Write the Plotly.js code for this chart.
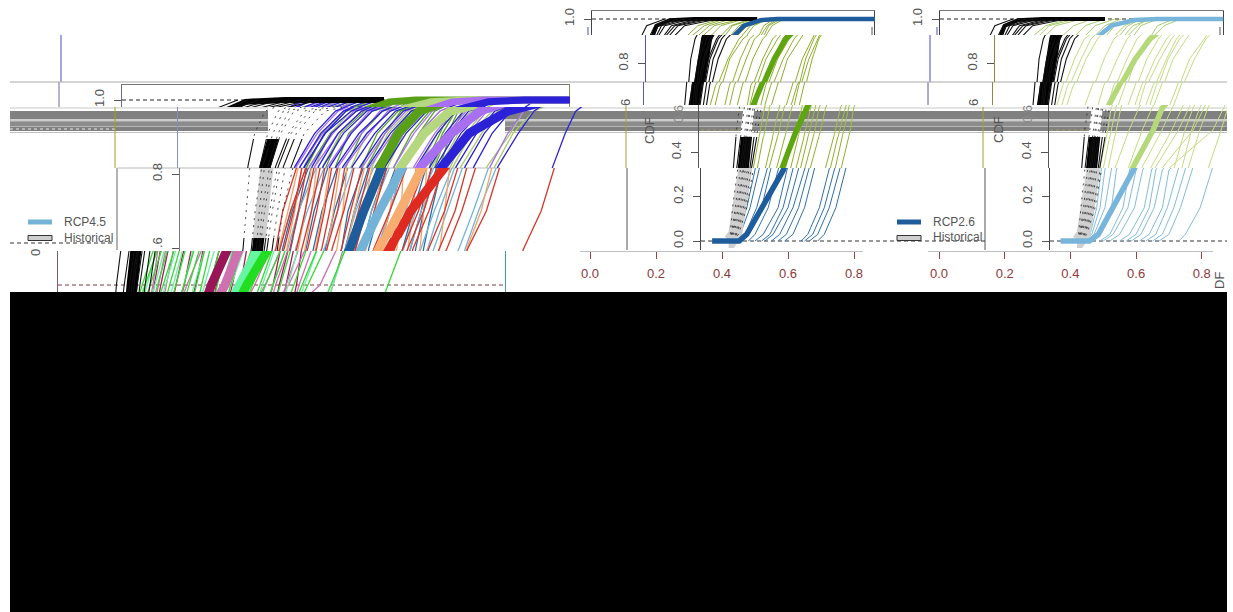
<!DOCTYPE html>
<html><head><meta charset="utf-8">
<script src="https://cdn.plot.ly/plotly-3.0.1.min.js"></script>
<style>html,body{margin:0;padding:0;background:#fff;overflow:hidden}#c{width:1233px;height:612px}</style>
</head><body><div id="c"></div>
<script>
// CDF levels at which the quantiles were read
const levels = [0,.03,.15,.32,.5,.6,.7,.82,.91,.97,1];
const levelsUpper = [.48,.6,.7,.82,.91,.97,1];
const levelsMean = [0,0,.03,.15,.32,.5,.6,.7,.82,.91,.97,.995,1,1];

const meanHist = [.42,.425,.44,.455,.47,.48,.487,.497,.505,.52,.535,.575,.65,.84];
const mean26 = [.37,.452,.475,.52,.586,.632,.664,.69,.725,.76,.80,.85,.90,1.2];
const mean45 = [.37,.458,.485,.53,.59,.658,.686,.72,.765,.81,.86,.93,1.0,1.2];
const mean60 = [.37,.47,.50,.55,.62,.685,.72,.755,.803,.862,.917,.97,1.03,1.2];
const mean85 = [.37,.475,.51,.565,.635,.70,.742,.78,.844,.896,.97,1.04,1.11,1.2];

const thinHist = [
[.42,.425,.432,.44,.45,.459,.465,.472,.485,.505,.56],
[.42,.428,.44,.45,.465,.475,.482,.495,.51,.53,.58],
[.42,.43,.445,.46,.475,.485,.49,.50,.52,.54,.60],
[.425,.432,.45,.465,.48,.49,.495,.51,.53,.55,.62],
[.425,.435,.455,.47,.485,.492,.50,.515,.535,.56,.64],
[.428,.44,.46,.475,.49,.50,.51,.525,.55,.58,.66],
[.43,.443,.465,.48,.495,.505,.515,.53,.555,.59,.68],
[.43,.445,.47,.49,.505,.515,.525,.54,.565,.60,.70],
[.432,.45,.475,.495,.515,.525,.535,.555,.58,.62,.72]];
const thin26 = [
[.425,.445,.475,.50,.522,.535,.553,.585,.618,.66,.73],
[.435,.455,.485,.512,.535,.55,.566,.59,.63,.68,.74],
[.45,.47,.505,.536,.565,.58,.595,.622,.65,.695,.76],
[.46,.482,.52,.547,.58,.594,.61,.64,.665,.71,.79],
[.48,.50,.54,.57,.602,.617,.634,.66,.69,.73,.80],
[.50,.525,.57,.597,.63,.648,.66,.69,.72,.76,.82],
[.52,.545,.585,.612,.642,.655,.672,.70,.735,.765,.83],
[.53,.555,.6,.63,.66,.675,.69,.722,.75,.785,.84],
[.55,.575,.615,.642,.672,.688,.705,.735,.77,.81,.86],
[.57,.595,.632,.656,.688,.70,.72,.752,.785,.82,.87],
[.59,.615,.65,.672,.705,.72,.74,.765,.80,.83,.875],
[.64,.66,.695,.718,.75,.765,.785,.81,.84,.86,.89],
[.65,.675,.71,.733,.762,.78,.80,.82,.845,.87,.90],
[.665,.69,.725,.748,.775,.79,.805,.83,.855,.875,.91],
[.69,.71,.745,.766,.795,.805,.82,.84,.86,.885,.92]];
const thin45 = [
[.44,.46,.48,.494,.52,.53,.55,.58,.61,.66,.73],
[.445,.465,.49,.505,.53,.545,.565,.60,.63,.67,.75],
[.45,.472,.505,.52,.545,.56,.582,.615,.65,.69,.77],
[.465,.49,.525,.54,.585,.615,.64,.67,.70,.745,.80],
[.49,.52,.56,.58,.625,.655,.675,.71,.74,.78,.84],
[.50,.53,.575,.60,.655,.686,.705,.74,.77,.81,.87],
[.52,.55,.595,.62,.685,.716,.74,.765,.80,.84,.89],
[.55,.58,.625,.647,.715,.746,.77,.80,.835,.87,.92],
[.57,.60,.64,.66,.735,.767,.79,.825,.86,.90,.94],
[.585,.615,.655,.68,.78,.813,.835,.865,.90,.94,.97],
[.61,.64,.68,.70,.84,.873,.90,.93,.975,1.0,1.05],
[.63,.66,.695,.72,.755,.78,.80,.84,.875,.91,.95],
[.65,.68,.715,.743,.775,.80,.825,.86,.89,.925,.98],
[.67,.70,.735,.763,.80,.825,.85,.88,.92,.95,1.0],
[.73,.75,.795,.824,.865,.885,.91,.945,.98,1.02,1.07]];
const thin60 = [
[.52,.543,.558,.572,.615,.655,.70],
[.555,.578,.59,.60,.645,.69,.74],
[.615,.639,.65,.658,.705,.74,.79],
[.65,.673,.69,.706,.75,.79,.84],
[.725,.754,.762,.766,.80,.84,.89],
[.775,.798,.805,.811,.855,.89,.94],
[.805,.836,.845,.855,.895,.93,.98],
[.86,.888,.915,.936,.97,1.0,1.04],
[.505,.528,.545,.565,.605,.645,.695],
[.54,.565,.578,.59,.635,.675,.725],
[.575,.598,.612,.625,.668,.705,.76],
[.595,.62,.632,.645,.69,.725,.78],
[.635,.658,.672,.692,.735,.775,.825],
[.665,.695,.71,.728,.77,.81,.86],
[.69,.72,.74,.752,.79,.825,.875],
[.745,.775,.785,.79,.83,.865,.915]];
const thin85 = [
[.50,.53,.55,.58,.62,.66,.70],
[.525,.549,.565,.581,.62,.67,.72],
[.56,.583,.60,.616,.655,.70,.75],
[.575,.60,.615,.629,.67,.71,.77],
[.585,.61,.625,.641,.685,.73,.78],
[.60,.62,.64,.654,.70,.745,.80],
[.625,.648,.665,.687,.73,.77,.83],
[.64,.66,.68,.702,.745,.785,.85],
[.68,.71,.74,.773,.81,.85,.91],
[.73,.765,.795,.821,.86,.895,.95],
[.76,.785,.815,.842,.88,.92,.97],
[.785,.815,.845,.871,.91,.945,1.0],
[.80,.835,.865,.888,.925,.96,1.02],
[.855,.89,.925,.951,.99,1.02,1.05],
[.965,.997,1.03,1.056,1.08,1.10,1.13],
[.495,.522,.535,.562,.60,.64,.69],
[.51,.538,.556,.572,.612,.655,.705],
[.535,.562,.578,.595,.632,.68,.735],
[.548,.572,.59,.607,.645,.69,.74],
[.61,.63,.652,.672,.715,.755,.815],
[.655,.675,.695,.716,.76,.80,.86],
[.665,.69,.71,.735,.775,.815,.87],
[.705,.74,.76,.795,.835,.87,.93],
[.72,.75,.775,.808,.85,.885,.94],
[.745,.775,.805,.832,.87,.905,.96],
[.81,.85,.878,.905,.94,.975,1.03]];

const xTicks = [0,.2,.4,.6,.8];
const xTickText = ['0.0','0.2','0.4','0.6','0.8'];
const legendNames = ['RCP4.5','RCP2.6','Historical'];

// page geometry of each panel: x=0 position, px per x unit, y of CDF=1, px per CDF unit
const PANELS = {
  L:{ox:3.5,sx:522,oy:100,sy:370},
  M:{ox:590,sx:330,oy:19,sy:222},
  R:{ox:939,sx:328.5,oy:19,sy:222}
};
const PAL = {
  up:{m:['#57a018','#b5d77f','#a870f0','#2b22d8'],t:['#5aa520','#aacb6c','#a870f0','#2b22d8']},
  lo:{m:['#1f5c9c','#74b3d8','#f8ad70','#de2a20'],t:['#2a6cab','#74b3d8','#f2a468','#d9342a']},
  bt:{m:['#9a1458','#d070b0','#66f5a0','#22dd22'],t:['#a01a5c','#cc70ac','#6cefa4','#36d836']}
};
const FONT='"Liberation Sans",Arial,sans-serif';
// slices of the picture: panel, y span, x span, horizontal displacement
const slices = [
 // left panel
 {p:'L',y:[85,107],x:[122,570],s:-58,set:'up',h:'#000',hw:6,mw:7,top:1,right:'#8a8a60',lc:'#6a6a9a',tv:[1],tt:['1.0'],dash:1,dc:'#222',sd:5},
 {p:'L',y:[107,139],x:[178,625],s:-2,set:'up',h:'#fff',hd:1,lc:'#8a8ac8'},
 {p:'L',y:[139,168],x:[178,625],s:-2,set:'up',h:'#000',lc:'#8a8ac8'},
 {p:'L',y:[168,238],x:[180,625],s:0,set:'lo',h:'#cfcfcf',hw:13,hd:1,lc:'#777',tv:[.8],tt:['0.8'],sd:5},
 {p:'L',y:[238,251],x:[180,625],s:0,set:'lo',h:'#000',lc:'#777',tv:[.6],tt:[''],sd:5},
 {p:'L',y:[251,292],x:[58,506],s:-122,set:'bt',h:'#000',lc:'#7a5a6a',right:'#3aa0a0',dash:.5,dc:'#7a3a3a'},
 // middle panel
 {p:'M',y:[11,35],x:[592,875],s:-110,m:'#1f5c9c',t:'#8fae3a',tv:[1],tt:['1.0'],h:'#000',hw:4,top:1,right:'#444',lc:'#444',dash:1,dc:'#222',sd:5,w:4.5},
 {p:'M',y:[35,82],x:[646,890],s:-55,m:'#5ea50f',t:'#8fae2a',h:'#000',lc:'#5050c0',tv:[.8],tt:['0.8'],sd:5,w:5.5},
 {p:'M',y:[82,105],x:[644,890],s:-57,m:'#5ea50f',t:'#8fae2a',h:'#000',lc:'#5a5aa8',w:5.5},
 {p:'M',y:[105,137],x:[699,890],s:-2,m:'#5ea50f',t:'#a0c040',h:'#fff',hd:1,lc:'#555',w:5.5},
 {p:'M',y:[137,168],x:[699,890],s:-2,m:'#5ea50f',t:'#8fae2a',h:'#000',lc:'#555',tv:[.4],tt:['0.4'],sd:5,w:5.5},
 {p:'M',y:[168,250],x:[701,985],s:0,m:'#1f5c9c',t:'#2f6fab',h:'#d0d0d0',hw:14,hd:1,lc:'#444',tv:[0,.2],tt:['0.0','0.2'],dash:0,dc:'#333',sd:5,w:5.5},
 // right panel
 {p:'R',y:[11,35],x:[940,1224],s:-110,m:'#78b5da',t:'#a8cc70',tv:[1],tt:['1.0'],h:'#000',hw:4,top:1,right:'#444',lc:'#444',dash:1,dc:'#222',sd:5,w:4.5},
 {p:'R',y:[35,82],x:[995,1227],s:-55,m:'#b5d97a',t:'#c3dc7f',h:'#000',lc:'#8a8a40',tv:[.8],tt:['0.8'],sd:5,w:5.5},
 {p:'R',y:[82,105],x:[993,1227],s:-57,m:'#b5d97a',t:'#c3dc7f',h:'#000',lc:'#8a8a40',w:5.5},
 {p:'R',y:[105,137],x:[1049,1227],s:-2,m:'#b5d97a',t:'#c3dc7f',h:'#fff',hd:1,lc:'#555',w:5.5},
 {p:'R',y:[137,168],x:[1049,1227],s:-2,m:'#b5d97a',t:'#c3dc7f',h:'#000',lc:'#555',tv:[.4],tt:['0.4'],sd:5,w:5.5},
 {p:'R',y:[168,250],x:[1050,1227],s:0,m:'#78b5da',t:'#84bbdd',h:'#d0d0d0',hw:14,hd:1,lc:'#444',tv:[0,.2],tt:['0.0','0.2'],dash:0,dc:'#333',sd:5,w:5.5}
];
const xAxes = [
 {p:'M',x:[580,863],y:250},
 {p:'R',x:[928,1213],y:250}
];
// gray raster bars (y, height, colour) and the x spans they occupy
const bandBars = [[107.5,1,'#c8c8c8'],[111,8.5,'#808080'],[119.5,1,'#dddddd'],[120.5,1.5,'#a8a8a8'],[122,4,'#8c8c8c'],[126,1,'#b5b5b5'],[127,4,'#808080'],[132,1,'#c0c0c0']];
const bandSpans = [[10,268],[505,1227]];
// stray rules: x, y0, y1, colour
const verticals = [[61,35,82,'#4a4ac8'],[59,82,107,'#6a6aa0'],[115,107,168,'#a0a020'],[117,168,250,'#666'],
 [626,106,168,'#a0a030'],[627,168,250,'#555'],[588,27,35,'#5050c0'],[872,27,35,'#555'],[937,27,35,'#5050c0'],[1220,27,35,'#555'],
 [930,35,82,'#4a4ac8'],[928,82,105,'#5a5aa8'],[983,107,168,'#a0a030'],[985,168,250,'#555']];
const horizontals = [[10,1227,82,'#aaa'],[117,500,168,'#bbb']];

const W=1233,H=612;
const traces=[],lay={width:W,height:H,autosize:false,margin:{l:0,r:0,t:0,b:0},paper_bgcolor:'#fff',plot_bgcolor:'rgba(0,0,0,0)',showlegend:false,shapes:[],annotations:[],font:{family:FONT,size:12,color:'#555'}};

function join(curves,lv){const xs=[],ys=[];curves.forEach(c=>{c.forEach((v,i)=>{xs.push(v);ys.push(lv[i]);});xs.push(null);ys.push(null);});return {x:xs,y:ys};}
let n=0;
function addAxes(xr,yr,xopt,yopt,xd,yd){n++;const sx=n===1?'':n;lay['xaxis'+sx]=Object.assign({domain:xd,range:xr,anchor:'y'+sx,showgrid:false,zeroline:false,showticklabels:false,ticks:'',showline:false,fixedrange:true},xopt);lay['yaxis'+sx]=Object.assign({domain:yd,range:yr,anchor:'x'+sx,showgrid:false,zeroline:false,showticklabels:false,ticks:'',showline:false,fixedrange:true},yopt);return ['x'+sx,'y'+sx];}

slices.forEach(S=>{
 const P=PANELS[S.p],ox=P.ox+S.s;
 const xr=[(S.x[0]-ox)/P.sx,(S.x[1]-ox)/P.sx];
 const yr=[1-(S.y[1]-P.oy)/P.sy,1-(S.y[0]-P.oy)/P.sy];
 const xopt=S.top?{showline:true,side:'top',linecolor:'#777',linewidth:1}:{};
 const yopt={showline:true,linecolor:S.lc||'#555',linewidth:1,mirror:false};
 if(S.tv){Object.assign(yopt,{tickmode:'array',tickvals:S.tv,ticktext:S.tt,ticks:'outside',ticklen:7,tickcolor:'#555',showticklabels:true,tickangle:-90,ticklabelstandoff:S.sd||4,tickfont:{family:FONT,size:13,color:'#555'}});}
 const [xa,ya]=addAxes(xr,yr,xopt,yopt,[S.x[0]/W,S.x[1]/W],[1-S.y[1]/H,1-S.y[0]/H]);
 const add=(c,col,w,dash)=>traces.push({x:c.x,y:c.y,xaxis:xa,yaxis:ya,mode:'lines',hoverinfo:'skip',line:{color:col,width:w,dash:dash||'solid'},connectgaps:false});
 if(S.dash!==undefined) add({x:[xr[0],xr[1]],y:[S.dash,S.dash]},S.dc,1,'4px,3px');
 if(S.right) add({x:[xr[1],xr[1]],y:yr},S.right,2);
 // thin ensembles
 if(S.p==='L'){
  const T=PAL[S.set].t;
  add(join(thin26,levels),T[0],1.3);
  add(join(thin45,levels),T[1],1.3);
  add(join(thin60,levelsUpper),T[2],1.3);
  add(join(thin85,levelsUpper),T[3],1.3);
 } else add(join(S.p==='M'?thin26:thin45,levels),S.t,1);
 // historical
 add({x:meanHist,y:levelsMean},S.h,S.hw||11);
 add(join(thinHist,levels),S.hd?'#222':'#111',S.hd?.8:1.1,S.hd?'2px,5px':'solid');
 // thick means
 if(S.p==='L'){
  const M=PAL[S.set].m;
  [mean26,mean45,mean60,mean85].forEach((m,i)=>add({x:m,y:levelsMean},M[i],S.mw||9));
 } else add({x:S.p==='M'?mean26:mean45,y:levelsMean},S.m,S.w);
});
xAxes.forEach(A=>{
 const P=PANELS[A.p];
 const [xa,ya]=addAxes([(A.x[0]-P.ox)/P.sx,(A.x[1]-P.ox)/P.sx],[0,1],{tickmode:'array',tickvals:xTicks,ticktext:xTickText,ticks:'outside',ticklen:7,tickcolor:'#a04040',showticklabels:true,ticklabelstandoff:3,tickfont:{family:FONT,size:13,color:'#8a3a3a'},showline:true,linecolor:'#c0c0c0',linewidth:1},{},[A.x[0]/W,A.x[1]/W],[1-(A.y+1)/H,1-A.y/H]);
 traces.push({x:[xTicks[0]],y:[0],xaxis:xa,yaxis:ya,mode:'markers',marker:{opacity:0},hoverinfo:'skip'});
});

const rect=(x0,x1,y0,y1,col,layer)=>lay.shapes.push({type:'rect',xref:'paper',yref:'paper',x0:x0/W,x1:x1/W,y0:1-y1/H,y1:1-y0/H,fillcolor:col,line:{width:0},layer:layer||'below'});
const seg=(x0,x1,y0,y1,col,w,dash,layer)=>lay.shapes.push({type:'line',xref:'paper',yref:'paper',x0:x0/W,x1:x1/W,y0:1-y0/H,y1:1-y1/H,line:{color:col,width:w||1,dash:dash||'solid'},layer:layer||'below'});
bandSpans.forEach(sp=>bandBars.forEach(b=>rect(sp[0],sp[1],b[0],b[0]+b[1],b[2])));
seg(10,115,129,129,'#e8e8e8',1,'dot');
seg(701,745,130,130,'#a0a060',1,'dot');
seg(1050,1092,130,130,'#a0a060',1,'dot');
verticals.forEach(v=>seg(v[0],v[0],v[1],v[2],v[3]));
horizontals.forEach(h=>seg(h[0],h[1],h[2],h[2],h[3]));
seg(10,115,243,243,'#333',1,'4px,3px');
rect(10,1227,292,612,'#000','above');
// legends
const pill=(x0,x1,y)=>lay.shapes.push({type:'rect',xref:'paper',yref:'paper',x0:x0/W,x1:x1/W,y0:1-(y+2.5)/H,y1:1-(y-2.5)/H,fillcolor:'#cfcfcf',line:{color:'#333',width:1}});
const txt=(t,x,y,opt)=>lay.annotations.push(Object.assign({text:t,xref:'paper',yref:'paper',x:x/W,y:1-y/H,showarrow:false,xanchor:'left',yanchor:'middle',font:{family:FONT,size:12,color:'#555'}},opt||{}));
seg(28,52,222,222,'#74b3d8',5);pill(28,52,238);txt(legendNames[0],62,222);txt(legendNames[2],62,238);
seg(897,921,222,222,'#1f5c9c',5);pill(897,921,238);txt(legendNames[1],931,222);txt(legendNames[2],931,237);
// cut-off labels left by the raster shifts
const rot={textangle:-90,xanchor:'center',font:{family:FONT,size:13,color:'#555'}};
txt('.6',158,243,rot);txt('0',36,253,rot);
txt('6',625,103,rot);txt('6',973,103,rot);
txt('0.6',678,114,{textangle:-90,xanchor:'center',font:{family:FONT,size:13,color:'#888'}});
txt('0.6',1027,114,{textangle:-90,xanchor:'center',font:{family:FONT,size:13,color:'#888'}});
txt('CDF',649,130,rot);txt('CDF',998,130,rot);txt('DF',1220,281,rot);

Plotly.newPlot('c',traces,lay,{displayModeBar:false,staticPlot:true,responsive:false});
</script></body></html>
